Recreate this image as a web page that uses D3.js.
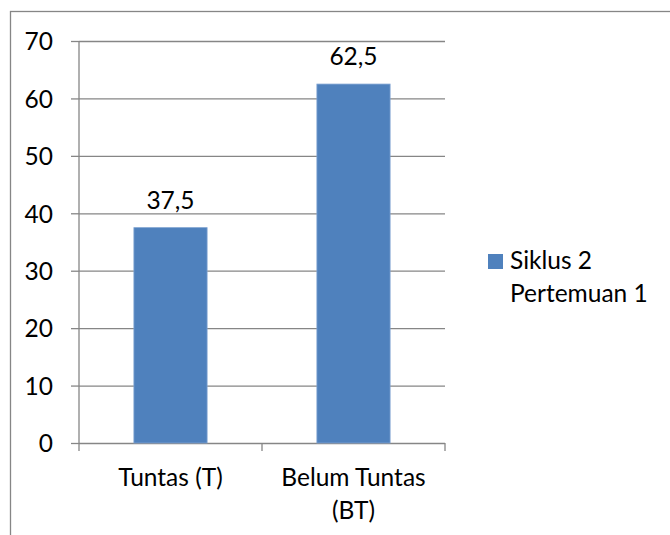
<!DOCTYPE html>
<html>
<head>
<meta charset="utf-8">
<script src="https://cdn.jsdelivr.net/npm/d3@7"></script>
<style>
  body { margin: 0; background: #fff; }
  text { font-family: Lato, "Noto Sans", sans-serif; fill: #000; }
</style>
</head>
<body>
<div id="chart"></div>
<script>
const categories = [["Tuntas (T)"], ["Belum Tuntas", "(BT)"]];
const values = [37.5, 62.5];
const seriesName = ["Siklus 2", "Pertemuan 1"];
const yTicks = [0, 10, 20, 30, 40, 50, 60, 70];

const width = 670;
const height = 535;
const fontSize = 24.5;
const gridColor = "#868686";
const barColor = "#4F81BD";

const svg = d3.select("#chart")
              .append("svg")
              .attr("width", width)
              .attr("height", height);

// outer chart frame (cut off at right and bottom)
svg.append("rect")
   .attr("x", 10.5)
   .attr("y", 11.5)
   .attr("width", 720)
   .attr("height", 600)
   .attr("fill", "none")
   .attr("stroke", gridColor)
   .attr("stroke-width", 1.3);

const plot = {left: 79, right: 445, top: 41, bottom: 443};

const y = d3.scaleLinear()
            .domain([0, 70])
            .range([plot.bottom, plot.top]);

const x = d3.scaleBand()
            .domain(d3.range(categories.length))
            .range([plot.left, plot.right])
            .paddingInner(0.6)
            .paddingOuter(0.3);

const comma = d3.formatLocale({decimal: ",", thousands: ".", grouping: [3], currency: ["", ""]}).format(".1f");

// gridlines + y axis
const yAxis = svg.append("g")
                 .attr("transform", "translate(" + plot.left + ",0)")
                 .call(d3.axisLeft(y)
                         .tickValues(yTicks)
                         .tickSize(8)
                         .tickPadding(18));
yAxis.select(".domain").remove();
yAxis.selectAll(".tick line")
     .attr("stroke", gridColor)
     .attr("stroke-width", 1.3)
     .attr("x2", -8);
yAxis.selectAll(".tick")
     .append("line")
     .attr("x1", 0)
     .attr("x2", plot.right - plot.left)
     .attr("stroke", gridColor)
     .attr("stroke-width", 1.3);
yAxis.selectAll(".tick text")
     .attr("font-size", fontSize)
     .attr("font-family", "Lato, 'Noto Sans', sans-serif")
     .attr("fill", "#000")
     .attr("dy", "0.36em");

// vertical axis line
svg.append("line")
   .attr("x1", plot.left)
   .attr("x2", plot.left)
   .attr("y1", plot.top)
   .attr("y2", plot.bottom)
   .attr("stroke", gridColor)
   .attr("stroke-width", 1.3);

// category ticks on the boundaries
const bounds = d3.range(categories.length + 1).map(function (i) {
    return plot.left + i * x.step();
});
svg.selectAll(".ctick")
   .data(bounds)
   .enter()
   .append("line")
   .attr("x1", function (d) { return d; })
   .attr("x2", function (d) { return d; })
   .attr("y1", plot.bottom)
   .attr("y2", plot.bottom + 8)
   .attr("stroke", gridColor)
   .attr("stroke-width", 1.3);

// bars
svg.selectAll(".bar")
   .data(values)
   .enter()
   .append("rect")
   .attr("x", function (d, i) { return x(i); })
   .attr("y", function (d) { return y(d); })
   .attr("width", x.bandwidth())
   .attr("height", function (d) { return plot.bottom - y(d); })
   .attr("fill", barColor)
   .attr("stroke", "#7FA3D2")
   .attr("stroke-width", 0.8);

// value labels
svg.selectAll(".vlabel")
   .data(values)
   .enter()
   .append("text")
   .attr("x", function (d, i) { return x(i) + x.bandwidth() / 2; })
   .attr("y", function (d) { return y(d) - 19; })
   .attr("text-anchor", "middle")
   .attr("font-size", fontSize)
   .text(function (d) { return comma(d); });

// category labels
const cl = svg.selectAll(".clabel")
              .data(categories)
              .enter()
              .append("text")
              .attr("text-anchor", "middle")
              .attr("font-size", fontSize);
cl.selectAll("tspan")
  .data(function (d, i) { return d.map(function (t) { return {t: t, i: i}; }); })
  .enter()
  .append("tspan")
  .attr("x", function (d) { return x(d.i) + x.bandwidth() / 2; })
  .attr("y", function (d, j) { return plot.bottom + 43 + j * 33; })
  .text(function (d) { return d.t; });

// legend
svg.append("rect")
   .attr("x", 488)
   .attr("y", 254)
   .attr("width", 15)
   .attr("height", 15)
   .attr("fill", barColor);
svg.append("text")
   .attr("font-size", fontSize)
   .selectAll("tspan")
   .data(seriesName)
   .enter()
   .append("tspan")
   .attr("x", 510)
   .attr("y", function (d, i) { return 269 + i * 33; })
   .text(function (d) { return d; });
</script>
</body>
</html>
